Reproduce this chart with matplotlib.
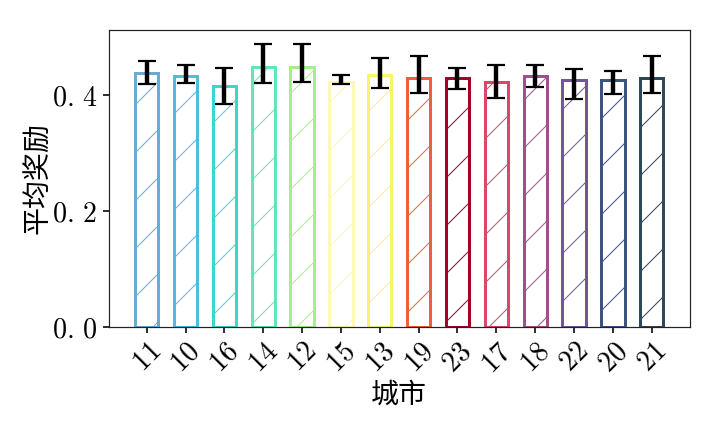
import matplotlib
matplotlib.use("Agg")
import matplotlib.pyplot as plt
import numpy as np

cities = ["11", "10", "16", "14", "12", "15", "13", "19", "23", "17", "18", "22", "20", "21"]
means = [0.438, 0.433, 0.417, 0.449, 0.450, 0.423, 0.436, 0.430, 0.430, 0.424, 0.433, 0.426, 0.426, 0.430]
err_low = [0.419, 0.422, 0.386, 0.421, 0.424, 0.419, 0.413, 0.404, 0.412, 0.396, 0.415, 0.394, 0.402, 0.405]
err_high = [0.459, 0.453, 0.447, 0.489, 0.489, 0.436, 0.465, 0.468, 0.447, 0.453, 0.453, 0.446, 0.442, 0.469]
colors = ["#6aabd2", "#4cbfdb", "#3ad6d0", "#62e6b5", "#a4ef8a", "#fcf9b4", "#f8f56c",
          "#ef5f3b", "#a50026", "#dc4668", "#a24f8e", "#725893", "#3e5480", "#2f4858"]
yticks = [0.0, 0.2, 0.4]
ytick_labels = [r"$0.\,0$", r"$0.\,2$", r"$0.\,4$"]

plt.rcParams["mathtext.fontset"] = "cm"
plt.rcParams["hatch.linewidth"] = 0.5
plt.rcParams["font.family"] = ["DejaVu Serif", "Noto Sans CJK SC"]

fig = plt.figure(figsize=(5, 3), dpi=144)
ax = fig.add_axes([0.151, 0.243, 0.807, 0.688])

x = np.arange(len(cities))
m = np.array(means)
lo = m - np.array(err_low)
hi = np.array(err_high) - m
for i in range(len(cities)):
    ax.bar(x[i], m[i], width=0.6, facecolor="none", edgecolor=colors[i], hatch="/", linewidth=1.5)
ax.errorbar(x, m, yerr=[lo, hi], fmt="none", ecolor="black", elinewidth=2.2, capsize=4.5, capthick=1.1)

ax.set_xticks(x)
ax.set_xticklabels(["$%s$" % c for c in cities], rotation=45, fontsize=14)
ax.set_yticks(yticks)
ax.set_yticklabels(ytick_labels, fontsize=14)
ax.tick_params(axis="both", length=3, pad=2.5)
ax.set_xlabel("城市", fontsize=14, family=["Noto Sans CJK SC"], labelpad=1)
ax.set_ylabel("平均奖励", fontsize=14, family=["Noto Sans CJK SC"])
ax.yaxis.set_label_coords(-0.095, 0.5)
for s in ax.spines.values():
    s.set_color("#222222")
    s.set_linewidth(0.6)

fig.savefig("out.png", dpi=144)
